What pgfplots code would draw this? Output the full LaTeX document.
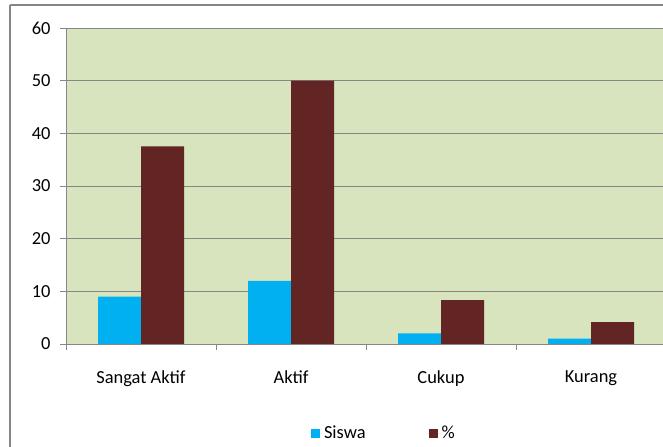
\documentclass[border=0pt]{standalone}
\usepackage{pgfplots}
\pgfplotsset{compat=1.18}
\usepackage{fontspec}
\setmainfont{Carlito}
\definecolor{bg}{HTML}{D7E4BD}
\definecolor{siswa}{HTML}{00B0F0}
\definecolor{pct}{HTML}{632523}
\definecolor{gridc}{HTML}{868686}
\begin{document}
\begin{tikzpicture}[x=1bp,y=1bp]
\draw[gridc, line width=1.6bp] (10,442) -- (10,-20);
\draw[gridc, line width=1.6bp] (10,442) -- (700,442);
\begin{axis}[
  at={(66bp,103bp)}, anchor=south west,
  scale only axis, width=600bp, height=316bp,
  xmin=-0.5, xmax=3.5, ymin=0, ymax=60,
  ybar=0pt, bar width=43bp,
  axis background/.style={fill=bg},
  axis line style={gridc, line width=0.8bp},
  font=\fontsize{18.5}{21}\selectfont,
  /pgf/number format/assume math mode=true,
  ytick={0,10,...,60},
  ymajorgrids, major grid style={gridc, line width=0.9bp},
  xtick={0,1,2,3},
  xticklabels={Sangat Aktif, Aktif, Cukup, Kurang},
  minor xtick={-0.5,0.5,1.5,2.5,3.5},
  major x tick style={draw=none},
  minor x tick style={gridc, line width=0.8bp},
  y tick style={gridc, line width=0.8bp},
  tick pos=left, tick align=outside,
  major tick length=6bp, minor tick length=6bp,
  yticklabel style={xshift=-6bp},
  xticklabel style={yshift=-17bp},
  legend style={at={(0.529,-0.282)}, anchor=center, legend columns=2, draw=none, fill=none,
    /tikz/every even column/.append style={column sep=60bp},
    font=\fontsize{18.5}{21}\selectfont},
  legend image code/.code={\fill[#1, draw=none] (0bp,-4.5bp) rectangle (9bp,4.5bp); \path (-1bp,0) -- (11bp,0);},
]
\addplot[fill=siswa, draw=none] coordinates {(0,9) (1,12) (2,2) (3,1)};
\addplot[fill=pct, draw=none] coordinates {(0,37.5) (1,50) (2,8.33) (3,4.17)};
\legend{Siswa, \%}
\end{axis}
\pgfresetboundingbox
\useasboundingbox (0,0) rectangle (663,447);
\end{tikzpicture}
\end{document}
